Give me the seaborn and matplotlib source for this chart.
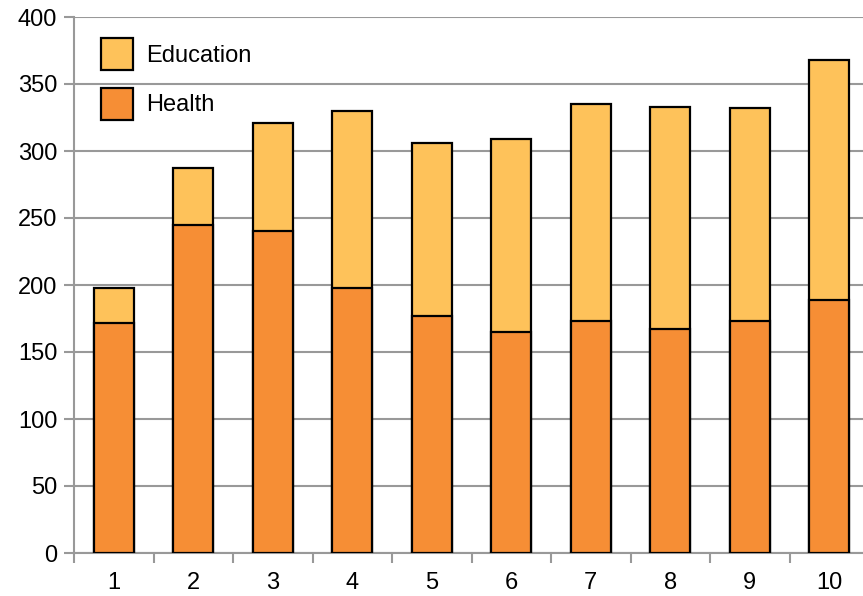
import matplotlib.pyplot as plt
import seaborn as sns
import pandas as pd
from matplotlib.patches import Patch

categories = ["1", "2", "3", "4", "5", "6", "7", "8", "9", "10"]
health = [172, 245, 240, 198, 177, 165, 173, 167, 173, 189]
education = [26, 42, 81, 132, 129, 144, 162, 166, 159, 179]

health_color = "#F68E35"
edu_color = "#FEC25A"

df = pd.DataFrame({"cat": categories, "Health": health, "Education": education})
df["Total"] = df["Health"] + df["Education"]

sns.set_style("white")
plt.rcParams["font.family"] = ["Liberation Sans", "DejaVu Sans"]
plt.rcParams["text.color"] = "black"
plt.rcParams["xtick.color"] = "black"
plt.rcParams["ytick.color"] = "black"

fig = plt.figure(figsize=(8.63, 5.96), dpi=100)
ax = fig.add_axes([74 / 863, 1 - 553 / 596, 795 / 863, 536 / 596])

sns.barplot(data=df, x="cat", y="Total", color=edu_color, width=0.5,
            edgecolor="black", linewidth=1.6, saturation=1, ax=ax, zorder=3)
sns.barplot(data=df, x="cat", y="Health", color=health_color, width=0.5,
            edgecolor="black", linewidth=1.6, saturation=1, ax=ax, zorder=3)

ax.set_xlim(-0.5, 9.5)
ax.set_ylim(0, 400)
ax.set_yticks(range(0, 401, 50))
ax.grid(axis="y", color="#999999", linewidth=1.5, zorder=0)
ax.set_axisbelow(True)
ax.set_xlabel("")
ax.set_ylabel("")

for s in ["top", "right"]:
    ax.spines[s].set_visible(False)
for s in ["left", "bottom"]:
    ax.spines[s].set_color("#999999")
    ax.spines[s].set_linewidth(1.5)

ax.tick_params(axis="y", direction="out", length=7, width=1.5, color="#999999",
               labelcolor="black", labelsize=17, pad=5, left=True)
ax.tick_params(axis="x", which="major", length=0, labelcolor="black", labelsize=17, pad=14)
ax.set_xticks([i + 0.5 for i in range(-1, 10)], minor=True)
ax.tick_params(axis="x", which="minor", direction="out", length=7, width=1.5,
               color="#999999", bottom=True)

handles = [Patch(facecolor=edu_color, edgecolor="black", linewidth=1.6, label="Education"),
           Patch(facecolor=health_color, edgecolor="black", linewidth=1.6, label="Health")]
ax.legend(handles=handles, loc="upper left", bbox_to_anchor=(27 / 795, 1 - 21 / 536),
          frameon=False, borderpad=0, borderaxespad=0, fontsize=17,
          handlelength=1.36, handleheight=1.7, labelspacing=0.76, handletextpad=0.55)

fig.savefig("out.png", dpi=100)
